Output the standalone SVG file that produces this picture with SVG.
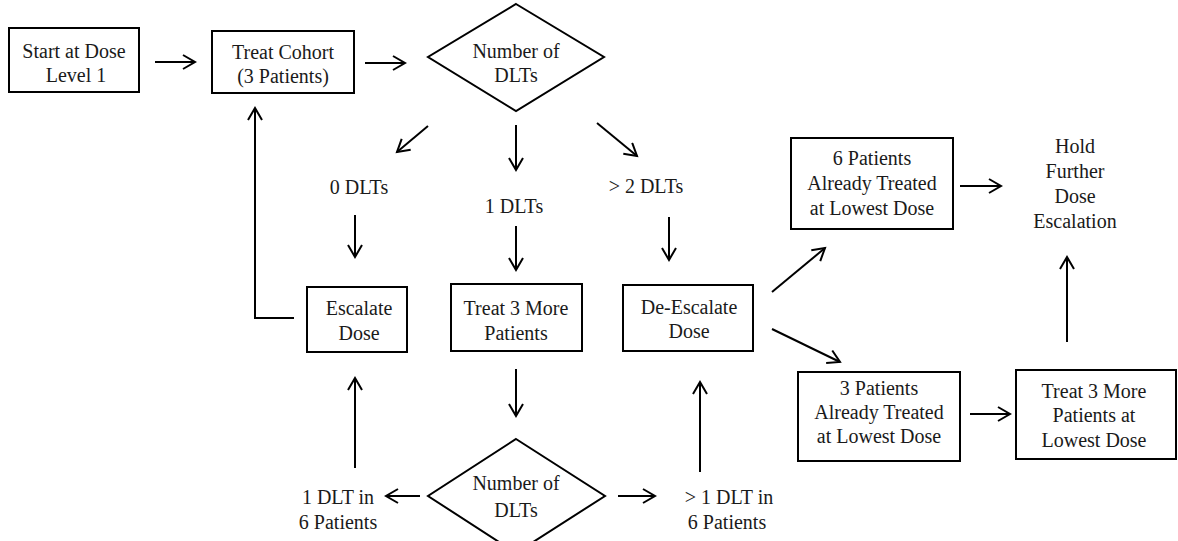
<svg xmlns="http://www.w3.org/2000/svg" width="1178" height="541" viewBox="0 0 1178 541">
<style>
.box{fill:#fff;stroke:#000;stroke-width:2}
.t{font-family:"Liberation Serif","Times New Roman",serif;font-size:20px;fill:#1a1a1a;text-anchor:middle}
.c{fill:none;stroke:#000;stroke-width:2}
</style>
<defs>
<marker id="ah" markerUnits="userSpaceOnUse" markerWidth="16" markerHeight="18" refX="13" refY="8" orient="auto">
<path d="M1,1 L13,8 L1,15" fill="none" stroke="#000" stroke-width="2"/>
</marker>
</defs>
<rect width="1178" height="541" fill="#fff"/>
<g id="start">
<rect class="box" x="9" y="28" width="130" height="64"/>
<text class="t" x="74" y="58">Start at Dose</text>
<text class="t" x="76" y="82">Level 1</text>
</g>
<g id="treat-cohort">
<rect class="box" x="212" y="31" width="142" height="62"/>
<text class="t" x="283" y="59">Treat Cohort</text>
<text class="t" x="283" y="83">(3 Patients)</text>
</g>
<g id="dlt1">
<polygon class="box" points="516,4 604,57 516,111 428,57"/>
<text class="t" x="516" y="58">Number of</text>
<text class="t" x="516" y="82">DLTs</text>
</g>
<g id="lbl0"><text class="t" x="359" y="194">0 DLTs</text></g>
<g id="lbl1"><text class="t" x="514" y="213">1 DLTs</text></g>
<g id="lbl2"><text class="t" x="646" y="193">&gt; 2 DLTs</text></g>
<g id="escalate">
<rect class="box" x="307" y="287" width="100" height="65"/>
<text class="t" x="359" y="315">Escalate</text>
<text class="t" x="359" y="340">Dose</text>
</g>
<g id="treat3more">
<rect class="box" x="451" y="284" width="131" height="67"/>
<text class="t" x="516" y="315">Treat 3 More</text>
<text class="t" x="516" y="340">Patients</text>
</g>
<g id="deescalate">
<rect class="box" x="623" y="285" width="130" height="66"/>
<text class="t" x="689" y="314">De-Escalate</text>
<text class="t" x="689" y="338">Dose</text>
</g>
<g id="dlt2">
<polygon class="box" points="516,439 605,496 516,553 428,496"/>
<text class="t" x="516" y="490">Number of</text>
<text class="t" x="516" y="517">DLTs</text>
</g>
<g id="lbl1of6">
<text class="t" x="338" y="504">1 DLT in</text>
<text class="t" x="338" y="529">6 Patients</text>
</g>
<g id="lblgt1of6">
<text class="t" x="729" y="504">&gt; 1 DLT in</text>
<text class="t" x="727" y="529">6 Patients</text>
</g>
<g id="six-treated">
<rect class="box" x="791" y="138" width="162" height="91"/>
<text class="t" x="872" y="165">6 Patients</text>
<text class="t" x="872" y="190">Already Treated</text>
<text class="t" x="872" y="215">at Lowest Dose</text>
</g>
<g id="hold">
<text class="t" x="1075" y="153">Hold</text>
<text class="t" x="1075" y="178">Further</text>
<text class="t" x="1075" y="203">Dose</text>
<text class="t" x="1075" y="228">Escalation</text>
</g>
<g id="three-treated">
<rect class="box" x="798" y="372" width="162" height="89"/>
<text class="t" x="879" y="395">3 Patients</text>
<text class="t" x="879" y="419">Already Treated</text>
<text class="t" x="879" y="443">at Lowest Dose</text>
</g>
<g id="treat3lowest">
<rect class="box" x="1016" y="370" width="160" height="89"/>
<text class="t" x="1094" y="398">Treat 3 More</text>
<text class="t" x="1094" y="422">Patients at</text>
<text class="t" x="1094" y="447">Lowest Dose</text>
</g>
<g id="connectors">
<line class="c" x1="155" y1="62" x2="195" y2="62" marker-end="url(#ah)"/>
<line class="c" x1="365" y1="63" x2="405" y2="63" marker-end="url(#ah)"/>
<line class="c" x1="428" y1="126" x2="397" y2="152" marker-end="url(#ah)"/>
<line class="c" x1="516" y1="125" x2="516" y2="170" marker-end="url(#ah)"/>
<line class="c" x1="597" y1="123" x2="637" y2="156" marker-end="url(#ah)"/>
<line class="c" x1="355" y1="215" x2="355" y2="257" marker-end="url(#ah)"/>
<line class="c" x1="516" y1="226" x2="516" y2="270" marker-end="url(#ah)"/>
<line class="c" x1="669" y1="217" x2="669" y2="260" marker-end="url(#ah)"/>
<polyline class="c" points="294,318 255,318 255,108" marker-end="url(#ah)"/>
<line class="c" x1="516" y1="369" x2="516" y2="416" marker-end="url(#ah)"/>
<line class="c" x1="355" y1="468" x2="355" y2="378" marker-end="url(#ah)"/>
<line class="c" x1="420" y1="496" x2="386" y2="496" marker-end="url(#ah)"/>
<line class="c" x1="618" y1="496" x2="655" y2="496" marker-end="url(#ah)"/>
<line class="c" x1="700" y1="472" x2="700" y2="382" marker-end="url(#ah)"/>
<line class="c" x1="772" y1="292" x2="825" y2="248" marker-end="url(#ah)"/>
<line class="c" x1="772" y1="329" x2="840" y2="362" marker-end="url(#ah)"/>
<line class="c" x1="960" y1="186" x2="1001" y2="186" marker-end="url(#ah)"/>
<line class="c" x1="970" y1="414" x2="1010" y2="414" marker-end="url(#ah)"/>
<line class="c" x1="1067" y1="342" x2="1067" y2="257" marker-end="url(#ah)"/>
</g>
</svg>
